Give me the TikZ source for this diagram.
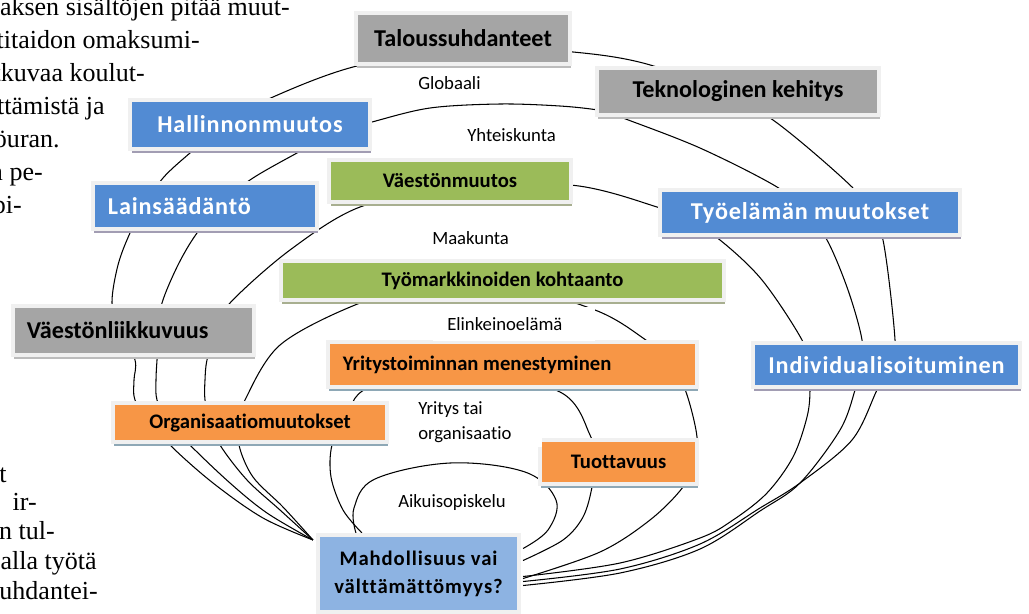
\documentclass[tikz,border=0pt]{standalone}
\usepackage{fontspec}
\setmainfont{Carlito}[Ligatures=NoCommon]
\newfontfamily\bodyfont{Liberation Serif}
\newfontfamily\widefont{Carlito}[LetterSpace=3.5, Ligatures=NoCommon]
\newfontfamily\halfwidefont{Carlito}[LetterSpace=4.5, Ligatures=NoCommon]
\usetikzlibrary{shadows,backgrounds,calc}

\definecolor{greyfill}{HTML}{A5A5A5}
\definecolor{bluefill}{HTML}{528BD3}
\definecolor{greenfill}{HTML}{9BBB59}
\definecolor{orangefill}{HTML}{F79646}
\definecolor{paleblue}{HTML}{8DB3E2}
\definecolor{frameline}{HTML}{F0F0F0}
\definecolor{greyshade}{HTML}{BCBCBC}
\definecolor{blueshade}{HTML}{A29DB3}
\definecolor{greenshade}{HTML}{A8AF90}
\definecolor{orangeshade}{HTML}{8EA8B6}
\definecolor{paleshade}{HTML}{A07E84}

\tikzset{
  panel/.style={draw=frameline, line width=0.1cm, inner sep=0pt,
    drop shadow={shadow xshift=0.8pt, shadow yshift=-3pt, fill=#1, opacity=1}},
  greybox/.style={panel=greyshade, fill=greyfill, font=\bfseries\fontsize{17.2}{20}\selectfont},
  bluebox/.style={panel=blueshade, fill=bluefill, text=white, font=\widefont\bfseries\fontsize{17.2}{20}\selectfont},
  greenbox/.style={panel=greenshade, fill=greenfill, font=\bfseries\fontsize{14.7}{18}\selectfont},
  orangebox/.style={panel=orangeshade, fill=orangefill, font=\bfseries\fontsize{14.7}{18}\selectfont},
  ringlabel/.style={fill=white, anchor=west, align=flush left, inner xsep=0.35cm, inner ysep=0.22cm, font=\fontsize{13.3}{17.8}\selectfont},
  loopline/.style={line width=0.75pt},
  body/.style={font=\bodyfont\fontsize{18.5}{22}\selectfont, inner sep=0pt, anchor=base east},
}

\begin{document}
\begin{tikzpicture}[x=0.025cm, y=-0.025cm]
\useasboundingbox (0,0) rectangle (1029,613);

% text of the page beside the figure
\foreach \px/\py/\txt [count=\i] in {290/15/aksen sisältöjen pitää muut-, 200/48/ttitaidon omaksumi-, 145/81/jatkuvaa koulut-, 105/114/kehittämistä ja, 60/147/työuran., 43/180/a pe-, 22/213/opi-, 7/482/ut, 37/510/ir-, 55/539/en tul-, 97/569/alla työtä, 98/599/noususuhdantei-}
  \node[body] (txt\i) at (\px,\py) {\txt};

% factors
\node[greybox, minimum width=5.35cm, minimum height=1.275cm] (tal) at (463,38.5) {Taloussuhdanteet};
\node[greybox, minimum width=7.05cm, minimum height=1.175cm] (tek) at (738,91.5) {Teknologinen kehitys};
\node[bluebox, minimum width=5.975cm, minimum height=1.225cm] (hal) at (250,124.5) {Hallinnonmuutos};
\node[bluebox, minimum height=1.15cm, text width=4.85cm, inner xsep=0.375cm, align=flush left] (lai) at (205,206) {Lainsäädäntö};
\node[greenbox, minimum width=6.025cm, minimum height=1.05cm] (vmu) at (450,181) {Väestönmuutos};
\node[bluebox, minimum width=7.475cm, minimum height=1.125cm] (tye) at (810,212.5) {Työelämän muutokset};
\node[greenbox, minimum width=11.075cm, minimum height=0.975cm] (tmk) at (502.5,280.5) {Työmarkkinoiden kohtaanto};
\node[greybox, minimum height=1.225cm, text width=5.325cm, inner xsep=0.35cm, align=flush left] (vli) at (133.5,330.5) {Väestönliikkuvuus};
\node[orangebox, minimum height=1.125cm, text width=8.475cm, inner xsep=0.375cm, align=flush left] (yri) at (512.5,364.5) {Yritystoiminnan menestyminen};
\node[bluebox, minimum width=6.675cm, minimum height=1.1cm] (ind) at (886.5,365) {Individualisoituminen};
\node[orangebox, minimum width=6.85cm, minimum height=0.975cm] (org) at (250,422.5) {Organisaatiomuutokset};
\node[orangebox, minimum width=3.925cm, minimum height=1.1cm] (tuo) at (618.5,462) {Tuottavuus};
\node[panel=paleshade, fill=paleblue, minimum width=5.025cm, minimum height=1.925cm, align=center,
  font=\halfwidefont\bfseries\fontsize{14.7}{19.9}\selectfont] (mah) at (418.5,573.5) {Mahdollisuus vai\\välttämättömyys?};

% levels
\node[ringlabel, text width=1.85cm, inner xsep=0.325cm, inner ysep=0.2cm] (glob) at (405,83) {Globaali};
\node[ringlabel, text width=3cm] (yht) at (453,135) {Yhteiskunta};
\node[ringlabel, text width=3.1cm, inner ysep=0.27cm] (maa) at (418,238) {Maakunta};
\node[ringlabel, text width=3.35cm, inner ysep=0.25cm] (eli) at (433,324) {Elinkeinoelämä};
\node[ringlabel, text width=2.725cm, inner xsep=0.375cm, inner ysep=0.1cm] (yto) at (403,422) {Yritys tai\\organisaatio};
\node[ringlabel, text width=2.75cm, inner ysep=0.1cm] (aik) at (384,503) {Aikuisopiskelu};

% loop ends on the bottom box
\coordinate (inL) at ($(mah.north west)+(-3,7)$);
\coordinate (inYO) at ($(mah.north west)+(46,0)$);
\coordinate (inAik) at ($(mah.north west)+(40,0)$);
\coordinate (outAik) at ($(mah.east)+(2,-25)$);
\coordinate (outYO) at ($(mah.east)+(2,-13)$);
\coordinate (outM) at ($(mah.east)+(2,3)$);
\coordinate (outE) at ($(mah.east)+(2,5)$);
\coordinate (outG) at ($(mah.east)+(2,8)$);
\coordinate (outY) at ($(mah.east)+(2,12)$);

\begin{pgfonlayer}{background}
  % Globaali
  \draw[loopline] plot[smooth, tension=0.55] coordinates {(inL) (263,518) (213,483) (170,445) (150,420) (135,400) (134,380) (135,360) (120,330) (112,303) (118,265) (130,233) (145,205) (163,178) (190,153) (228,122) (273,97) (353,67) (463,46) (573,52) (643,63) (712,88) (773,120) (852,187) (868,213) (883,240) (895,340) (890,366) (877,390) (852,440) (800,483) (760,508) (700,544) (620,569) (outG)};
  % Yhteiskunta
  \draw[loopline] plot[smooth, tension=0.55] coordinates {(inL) (267,513) (230,483) (190,445) (168,420) (157,400) (156,380) (157,360) (159,330) (162,303) (178,265) (197,233) (225,200) (253,178) (297,153) (335,133) (372,122) (430,108) (500,104) (560,106) (598,110) (612,114) (623,118) (700,148) (777,187) (805,212) (827,240) (848,290) (862,340) (860,366) (855,390) (840,430) (800,483) (760,511) (700,549) (620,573) (outY)};
  % Maakunta
  \draw[loopline] plot[smooth, tension=0.55] coordinates {(inL) (280,510) (247,480) (220,445) (210,420) (205,400) (205,380) (207,360) (216,330) (230,303) (290,250) (360,207) (450,190) (570,185) (657,207) (690,222) (720,240) (762,280) (802,340) (808,366) (810,390) (807,417) (793,457) (767,493) (733,520) (700,538) (620,563) (outM)};
  % Elinkeinoelama
  \draw[loopline] plot[smooth, tension=0.55] coordinates {(inL) (283,507) (253,477) (239,445) (241,420) (245,400) (280,345) (355,305) (420,288) (502,284) (595,310) (643,338) (670,362) (686,392) (697,437) (693,462) (683,487) (650,520) (600,552) (outE)};
  % Yritys tai organisaatio
  \draw[loopline] plot[smooth, tension=0.55] coordinates {(inYO) (343,510) (331,477) (332,445) (346,418) (368,388) (460,370) (560,392) (590,435) (594,460) (592,487) (583,517) (563,540) (outYO)};
  % Aikuisopiskelu
  \draw[loopline] plot[smooth, tension=0.6] coordinates {(inAik) (354,508) (375,479) (450,463) (525,472) (556,500) (548,530) (outAik)};
\end{pgfonlayer}
\end{tikzpicture}
\end{document}
